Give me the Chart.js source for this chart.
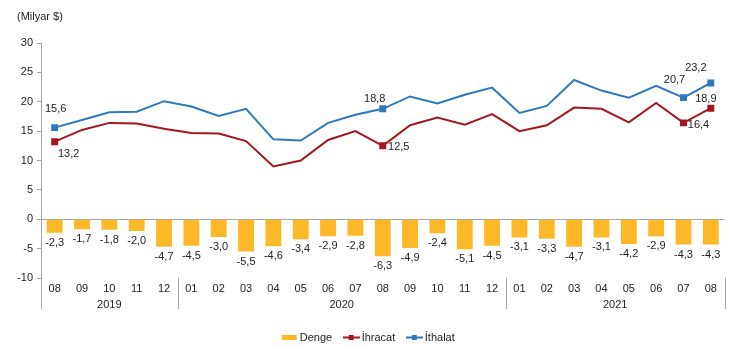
<!DOCTYPE html>
<html>
<head>
<meta charset="utf-8">
<script src="https://cdn.jsdelivr.net/npm/chart.js@4"></script>
<style>
  html, body { margin: 0; padding: 0; background: #fff; }
  #wrap { width: 730px; height: 349px; position: relative; }
</style>
</head>
<body>
<div id="wrap"><canvas id="myChart" width="730" height="349"></canvas></div>
<script>
// aylar ve yıllar
const months = ['08','09','10','11','12','01','02','03','04','05','06','07','08','09','10','11','12','01','02','03','04','05','06','07','08'];
const years = ['2019', '2020', '2021'];
const yearOfMonth = [0,0,0,0,0,1,1,1,1,1,1,1,1,1,1,1,1,2,2,2,2,2,2,2,2];

// milyar $
const denge = [-2.3,-1.7,-1.8,-2.0,-4.7,-4.5,-3.0,-5.5,-4.6,-3.4,-2.9,-2.8,-6.3,-4.9,-2.4,-5.1,-4.5,-3.1,-3.3,-4.7,-3.1,-4.2,-2.9,-4.3,-4.3];
const ihracat = [13.2,15.2,16.4,16.3,15.4,14.7,14.6,13.3,9.0,10.0,13.5,15.0,12.5,16.0,17.3,16.1,17.9,15.0,16.0,19.0,18.8,16.5,19.8,16.4,18.9];
const ithalat = [15.6,16.9,18.2,18.3,20.1,19.2,17.6,18.8,13.6,13.4,16.4,17.8,18.8,20.9,19.7,21.2,22.4,18.1,19.3,23.7,21.9,20.7,22.7,20.7,23.2];

// hangi noktalar etiketli
const markedPoints = [0, 12, 23, 24];

const yellow = '#FDB827';
const red = '#A3171E';
const blue = '#2E78BE';
const gray = '#a6a6a6';
const fontFamily = '"Liberation Sans", Arial, sans-serif';

function fmt(v) {
    return v.toFixed(1).replace('.', ',');
}

// legend icons
function makeIcon(kind, color) {
    const c = document.createElement('canvas');
    c.width = 17; c.height = 7;
    const g = c.getContext('2d');
    g.fillStyle = color;
    if (kind === 'bar') {
        g.fillRect(1, 1, 15, 5);
    } else {
        g.fillRect(0, 2.5, 17, 2);
        g.fillRect(6, 1, 5, 5);
    }
    return c;
}
const icons = [makeIcon('bar', yellow), makeIcon('line', red), makeIcon('line', blue)];

const pointRadius = (ctx) => markedPoints.includes(ctx.dataIndex) ? 3.5 : 0;

// yıl ekseni ve değer etiketleri
const extrasPlugin = {
    id: 'extras',
    afterDraw(chart) {
        const ctx = chart.ctx;
        const x = chart.scales.x;
        const area = chart.chartArea;
        const step = x.getPixelForValue(1) - x.getPixelForValue(0);
        const lineBottom = area.bottom + 31;

        ctx.save();
        ctx.strokeStyle = gray;
        ctx.lineWidth = 1;
        const bounds = [area.left];
        for (let i = 1; i < months.length; i++) {
            if (yearOfMonth[i] !== yearOfMonth[i - 1]) {
                bounds.push(x.getPixelForValue(i) - step / 2);
            }
        }
        bounds.push(area.right);
        bounds.forEach((bx) => {
            const px = Math.round(bx) + 0.5;
            ctx.beginPath();
            ctx.moveTo(px, area.bottom);
            ctx.lineTo(px, lineBottom);
            ctx.stroke();
        });

        ctx.fillStyle = '#222';
        ctx.font = '11px ' + fontFamily;
        ctx.textAlign = 'center';
        ctx.textBaseline = 'middle';
        years.forEach((y, yi) => {
            const idx = [];
            yearOfMonth.forEach((v, i) => { if (v === yi) idx.push(i); });
            const cx = (x.getPixelForValue(idx[0]) + x.getPixelForValue(idx[idx.length - 1])) / 2;
            ctx.fillText(y, cx, area.bottom + 27);
        });

        // bar labels
        const barMeta = chart.getDatasetMeta(0);
        barMeta.data.forEach((bar, i) => {
            ctx.fillText(fmt(denge[i]), bar.x, bar.y + 10);
        });

        // line labels
        const ihrMeta = chart.getDatasetMeta(1);
        const ithMeta = chart.getDatasetMeta(2);
        const ihrOffsets = {0: [14, 12], 12: [16, 1], 23: [15, 2], 24: [-5, -9]};
        const ithOffsets = {0: [1, -19], 12: [-8, -10], 23: [-9, -18], 24: [-15, -15]};
        markedPoints.forEach(i => {
            const p = ihrMeta.data[i];
            ctx.fillText(fmt(ihracat[i]), p.x + ihrOffsets[i][0], p.y + ihrOffsets[i][1]);
            const q = ithMeta.data[i];
            ctx.fillText(fmt(ithalat[i]), q.x + ithOffsets[i][0], q.y + ithOffsets[i][1]);
        });

        ctx.textAlign = 'left';
        ctx.fillText('(Milyar $)', 17, 17);
        ctx.restore();
    }
};

const ctx = document.getElementById('myChart').getContext('2d');
new Chart(ctx, {
    data: {
        labels: months,
        datasets: [
            {
                type: 'bar',
                label: 'Denge',
                data: denge,
                backgroundColor: yellow,
                barPercentage: 0.58,
                categoryPercentage: 1,
                order: 3
            },
            {
                type: 'line',
                label: 'İhracat',
                data: ihracat,
                borderColor: red,
                backgroundColor: red,
                borderWidth: 2,
                pointStyle: 'rect',
                pointRadius: pointRadius,
                pointHoverRadius: 0,
                tension: 0,
                fill: false,
                order: 1
            },
            {
                type: 'line',
                label: 'İthalat',
                data: ithalat,
                borderColor: blue,
                backgroundColor: blue,
                borderWidth: 2,
                pointStyle: 'rect',
                pointRadius: pointRadius,
                pointHoverRadius: 0,
                tension: 0,
                fill: false,
                order: 2
            }
        ]
    },
    options: {
        responsive: false,
        animation: false,
        events: [],
        layout: { padding: { top: 43, right: 3, bottom: -4, left: 12 } },
        scales: {
            x: {
                grid: { display: false, drawTicks: false },
                border: { display: false },
                ticks: {
                    color: '#222',
                    font: { family: fontFamily, size: 11 },
                    maxRotation: 0,
                    autoSkip: false,
                    padding: 4
                },
                afterFit(scale) { scale.height = 40; }
            },
            y: {
                min: -10,
                max: 30,
                ticks: {
                    stepSize: 5,
                    color: '#222',
                    font: { family: fontFamily, size: 11 },
                    padding: 4
                },
                grid: {
                    drawOnChartArea: true,
                    color: (c) => c.tick && c.tick.value === 0 ? gray : 'rgba(0,0,0,0)',
                    tickColor: gray,
                    tickLength: 4
                },
                border: { display: true, color: gray },
                afterFit(scale) { scale.width = 29; }
            }
        },
        plugins: {
            legend: {
                position: 'bottom',
                labels: {
                    usePointStyle: true,
                    pointStyleWidth: 10,
                    boxHeight: 7,
                    padding: 14,
                    color: '#222',
                    font: { family: fontFamily, size: 11 },
                    generateLabels(chart) {
                        return chart.data.datasets.map((ds, i) => ({
                            text: ds.label,
                            fillStyle: ds.backgroundColor,
                            strokeStyle: ds.borderColor || ds.backgroundColor,
                            lineWidth: 0,
                            pointStyle: icons[i],
                            fontColor: '#222',
                            hidden: false,
                            datasetIndex: i
                        }));
                    }
                }
            },
            tooltip: { enabled: false }
        }
    },
    plugins: [extrasPlugin]
});
</script>
</body>
</html>
